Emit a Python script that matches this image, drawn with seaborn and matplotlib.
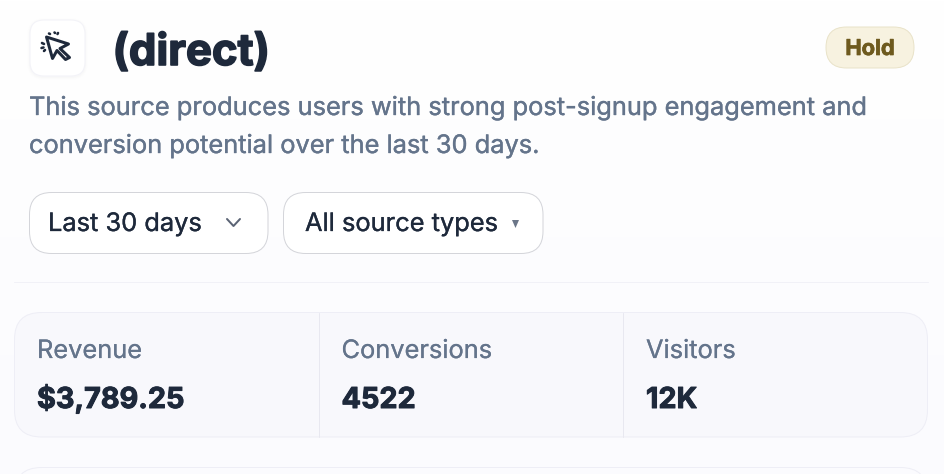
import numpy as np
import matplotlib
matplotlib.use("Agg")
import matplotlib.pyplot as plt
import matplotlib.patheffects as pe
from matplotlib.patches import FancyBboxPatch, Polygon
import seaborn as sns

sns.set_theme(style="white")
plt.rcParams['font.family'] = ['Inter', 'DejaVu Sans']

# ---- content ----
title = "(direct)"
badge = "Hold"
description = ["This source produces users with strong post-signup engagement and",
               "conversion potential over the last 30 days."]
filters = ["Last 30 days", "All source types"]
metric_names = ["Revenue", "Conversions", "Visitors"]
metric_values = ["$3,789.25", "4522", "12K"]

INK = "#1e293b"
MUTED = "#64748b"

W, H = 944, 474
PX = 0.72  # px -> pt at dpi 100
fig = plt.figure(figsize=(W / 100, H / 100), dpi=100)
ax = fig.add_axes([0, 0, 1, 1])
ax.set_xlim(0, W)
ax.set_ylim(H, 0)
ax.axis("off")

# page background gradient
grad = np.linspace(0, 1, 256).reshape(-1, 1)
top = np.array([255, 255, 255]) / 255
bot = np.array([251, 251, 254]) / 255
img = top + (bot - top) * grad[..., None]
ax.imshow(img, extent=[0, W, H, 0], aspect="auto", zorder=0)
ax.set_xlim(0, W)
ax.set_ylim(H, 0)


def rbox(x0, y0, x1, y1, r, fc, ec, lw=1.0, z=1):
    p = FancyBboxPatch((x0 + r, y0 + r), x1 - x0 - 2 * r, y1 - y0 - 2 * r,
                       boxstyle=f"round,pad={r},rounding_size={r}",
                       fc=fc, ec=ec, lw=lw * PX, zorder=z, mutation_aspect=1)
    ax.add_patch(p)
    return p


def txt(x, y, s, size, color, weight="normal", stroke=0.0, **kw):
    t = ax.text(x, y, s, fontsize=size * PX, color=color, fontweight=weight,
                va="baseline", zorder=5, **kw)
    if stroke:
        t.set_path_effects([pe.withStroke(linewidth=stroke * PX, foreground=color)])
    return t


# icon tile
for i, a in zip(range(3, 0, -1), [.004, .006, .01]):
    rbox(30 - i, 20 - i + 1, 85 + i, 76 + i + 1, 14 + i, (0.1, 0.1, 0.3, a), "none", z=1)
rbox(30, 20, 85, 76, 14, "white", "#f3f3f8", z=2)
ax.add_patch(Polygon([(46.5, 37), (68.5, 44), (60, 48.5), (69.5, 57.5), (65.5, 59.5),
                      (57, 50.5), (52.5, 58.5)], closed=True, fc="white", ec=INK,
                     lw=3.0 * PX, joinstyle="round", zorder=3))
for seg in [((49, 33.5), (50, 34)), ((54.5, 32.5), (55, 33)), ((58, 33), (57.5, 34)),
            ((42, 43), (44, 44)), ((41.5, 48), (43.5, 47.5)), ((44, 51), (45, 50))]:
    ax.plot(*zip(*seg), color=INK, lw=2.6 * PX, solid_capstyle="round", zorder=3)

# title
txt(112.5, 65, title, 43.6, INK, "bold", stroke=1.6)

# badge
rbox(826, 27, 914, 68, 20.5, "#f7f2e0", "#e9e3c9", z=2)
txt(870, 55, badge, 21.8, "#6e5a1e", "bold", stroke=0.7, ha="center")

# description
txt(29, 115, description[0], 25.4, MUTED, stroke=0.35)
txt(29, 153, description[1], 25.4, MUTED, stroke=0.35)

# filters
rbox(29.5, 192.5, 268, 253.5, 22, "white", "#d4d5da", z=2)
rbox(283.5, 192.5, 543, 253.5, 22, "white", "#d4d5da", z=2)
txt(48, 231, filters[0], 25.4, INK, stroke=0.3)
txt(305, 231, filters[1], 25.4, INK, stroke=0.3)
ax.plot([227, 233.5, 240], [219, 226, 219], color="#5b6475", lw=2 * PX,
        solid_capstyle="round", solid_joinstyle="round", zorder=5)
ax.add_patch(Polygon([(512, 220), (519, 220), (515.5, 228)], closed=True,
                     fc="#6b7688", ec="none", zorder=5))

# divider
ax.plot([14, 928], [282, 282], color="#f1f1f7", lw=1 * PX, zorder=2)

# metric strip
rbox(14.5, 312.5, 927.5, 437, 27, "#f8f8fc", "#eeeef6", z=2)
for xs in [319, 623]:
    ax.plot([xs, xs], [313, 437], color="#e8e8f0", lw=1 * PX, zorder=3)
for x, n, v in zip([37, 341.5, 646], metric_names, metric_values):
    txt(x, 358, n, 25.4, MUTED, stroke=0.2)
    txt(x, 408, v, 28.8, INK, "bold", stroke=1.0)

# next card peeking at the bottom
rbox(14.5, 467.5, 927.5, 540, 27, "#fbfbfe", "#eeeef6", z=2)

fig.savefig("out.png", dpi=100)
